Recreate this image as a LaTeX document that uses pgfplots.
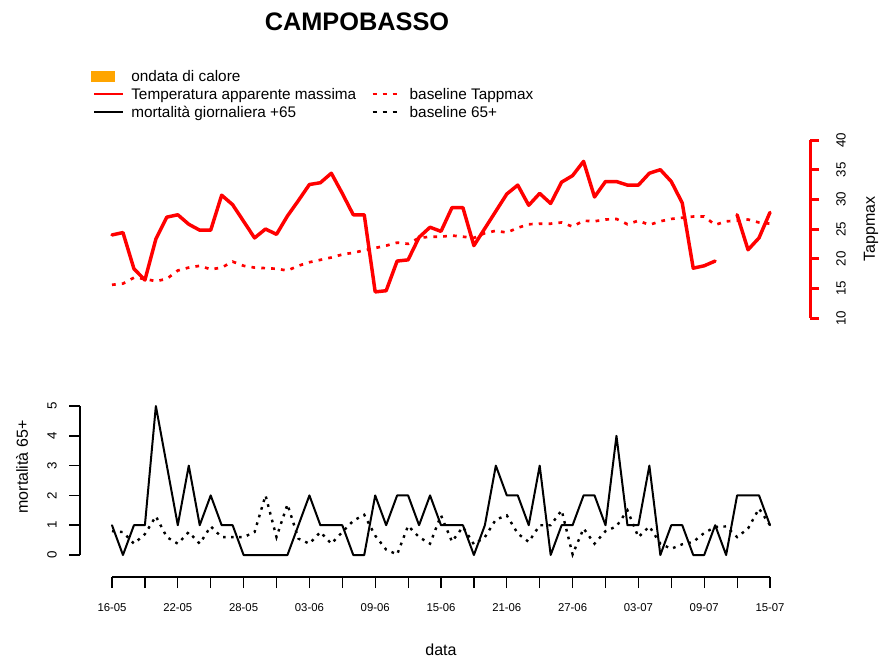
\documentclass[border=0pt]{standalone}
\usepackage{pgfplots}
\usepackage{pgfplotstable}
\pgfplotsset{compat=1.18}
\usepackage{fontspec}
\setmainfont{Liberation Sans}
\definecolor{rorange}{HTML}{FFA500}

\pgfplotstableread{
d t b m k
0 24.0 15.6 1 0.80
1 24.4 15.8 0 0.77
2 18.3 16.8 1 0.38
3 16.4 16.6 1 0.70
4 23.3 16.2 5 1.30
5 27.0 16.6 3 0.60
6 27.4 18.0 1 0.38
7 25.8 18.5 3 0.77
8 24.8 18.8 1 0.38
9 24.8 18.2 2 0.96
10 30.7 18.5 1 0.60
11 29.1 19.5 1 0.60
12 26.3 18.8 0 0.60
13 23.5 18.5 0 0.77
14 25.0 18.4 0 2.00
15 24.1 18.3 0 0.60
16 27.2 18.0 0 1.70
17 29.8 18.8 1 0.55
18 32.5 19.4 2 0.38
19 32.8 19.8 1 0.77
20 34.4 20.2 1 0.38
21 31.0 20.7 1 0.77
22 27.4 21.0 0 1.15
23 27.4 21.4 0 1.35
24 14.4 21.8 2 0.65
25 14.6 22.2 1 0.18
26 19.6 22.7 2 0.02
27 19.8 22.5 2 0.98
28 23.6 23.5 1 0.60
29 25.3 23.7 2 0.38
30 24.6 23.7 1 1.33
31 28.6 23.9 1 0.45
32 28.6 23.7 1 0.94
33 22.2 23.5 0 0.36
34 25.1 24.3 1 0.60
35 28.0 24.7 3 1.19
36 30.9 24.4 2 1.33
37 32.4 25.2 2 0.72
38 29.0 25.8 1 0.44
39 31.0 25.9 3 1.00
40 29.3 25.9 0 1.00
41 32.9 26.1 1 1.50
42 34.0 25.4 1 0.02
43 36.4 26.4 2 0.89
44 30.4 26.3 2 0.38
45 33.0 26.6 1 0.80
46 33.0 26.7 4 0.96
47 32.4 25.8 1 1.50
48 32.4 26.4 1 0.60
49 34.4 25.7 3 0.96
50 35.0 26.3 0 0.38
51 33.0 26.7 1 0.21
52 29.4 26.9 1 0.36
53 18.4 27.1 0 0.44
54 18.8 27.1 0 0.74
55 19.6 25.7 1 0.94
56 nan 26.3 0 0.96
57 27.4 26.4 2 0.60
58 21.5 26.6 2 0.89
59 23.5 26.1 2 1.56
60 27.8 25.9 1 1.00
}\datatable

\begin{document}
\begin{tikzpicture}
\useasboundingbox (0,0) rectangle (663.75pt,-493.5pt);
\node[font=\bfseries\fontsize{19}{22}\selectfont] at (267.75pt,-16.5pt) {CAMPOBASSO};

% ---------- top panel: temperature ----------
\begin{axis}[
  at={(84pt,-238.5pt)}, anchor=south west,
  width=523.5pt, height=133.5pt, scale only axis,
  xmin=0, xmax=63.65, ymin=10, ymax=40,
  axis x line=none, axis y line=right,
  y axis line style={red, line width=2.25pt, -},
  ytick={10,15,...,40},
  tick align=outside,
  major tick length=6.75pt,
  major tick style={red, line width=2.25pt},
  /pgf/number format/assume math mode=true,
  yticklabel style={xshift=16.5pt, rotate=90, anchor=center, font=\fontsize{10}{12}\selectfont, text=black},
  every axis y label/.style={at={(axis description cs:1.0874,0.5)}, rotate=90, anchor=center, font=\fontsize{12}{14}\selectfont},
  ylabel={Tappmax},
  clip=false,
  unbounded coords=jump,
  legend columns=2, legend cell align=left,
  legend style={at={(axis description cs:-0.0305,1.397)}, anchor=north west,
    draw=none, fill=none, inner sep=0pt, outer sep=0pt,
    font=\fontsize{11.5}{13}\selectfont, row sep=0pt, column sep=5.25pt,
    /tikz/column 2/.style={column sep=11.25pt},
    nodes={inner sep=0pt, text height=9pt, text depth=4.4pt}},
]
\addlegendimage{legend image code/.code={\fill[rorange] (-2.5pt,-2.6pt) rectangle (15pt,5.6pt);}}
\addlegendentry{ondata di calore}
\addlegendimage{empty legend}
\addlegendentry{}
\addlegendimage{legend image code/.code={\draw[red, line width=1.5pt] (0pt,1.5pt) -- (21.75pt,1.5pt);}}
\addlegendentry{Temperatura apparente massima}
\addlegendimage{legend image code/.code={\draw[red, line width=1.8pt, dash pattern=on 3.5pt off 4pt] (0pt,1.5pt) -- (21.75pt,1.5pt);}}
\addlegendentry{baseline Tappmax}
\addlegendimage{legend image code/.code={\draw[black, line width=1.5pt] (0pt,1.5pt) -- (21.75pt,1.5pt);}}
\addlegendentry{mortalità giornaliera +65}
\addlegendimage{legend image code/.code={\draw[black, line width=1.8pt, dash pattern=on 3.5pt off 4pt] (0pt,1.5pt) -- (21.75pt,1.5pt);}}
\addlegendentry{baseline 65+}

\addplot[red, line width=2pt, dash pattern=on 2.8pt off 4.6pt, forget plot] table[x=d, y=b] {\datatable};
\addplot[red, line width=2.6pt, line join=round, line cap=round, forget plot] table[x=d, y=t] {\datatable};
\end{axis}

% ---------- bottom panel: mortality ----------
\begin{axis}[
  at={(60pt,-416.25pt)}, anchor=south west,
  width=517.5pt, height=111.75pt, scale only axis,
  xmin=-2.918, xmax=60, ymin=0, ymax=5,
  axis x line=none, axis y line=left,
  y axis line style={black, line width=1.2pt, -},
  ytick={0,...,5},
  tick align=outside, major tick length=8pt,
  major tick style={black, line width=1.2pt},
  /pgf/number format/assume math mode=true,
  yticklabel style={xshift=-13pt, rotate=90, anchor=center, font=\fontsize{10}{12}\selectfont},
  every axis y label/.style={at={(axis description cs:-0.0841,0.5906)}, rotate=90, anchor=center, font=\fontsize{12}{14}\selectfont},
  ylabel={mortalità 65+},
  clip=false,
]
\addplot[black, line width=1.8pt, dash pattern=on 2pt off 4pt] table[x=d, y=k] {\datatable};
\addplot[black, line width=1.5pt, line join=round, line cap=round] table[x=d, y=m] {\datatable};
\end{axis}

% ---------- date axis ----------
\begin{axis}[
  at={(84pt,-432.75pt)}, anchor=south west,
  width=493.5pt, height=7.5pt, scale only axis,
  xmin=0, xmax=60, ymin=0, ymax=1,
  axis y line=none, axis x line=bottom,
  x axis line style={black, line width=0.9pt, -},
  xtick={0,3,...,60},
  xticklabels={16-05,{},22-05,{},28-05,{},03-06,{},09-06,{},15-06,{},21-06,{},27-06,{},03-07,{},09-07,{},15-07},
  tick align=outside, major tick length=8.25pt,
  major tick style={black, line width=0.9pt},
  xticklabel style={anchor=center, yshift=-15pt, font=\fontsize{8.5}{10}\selectfont},
  every axis x label/.style={at={(axis description cs:0.5,-7.3)}, anchor=center, font=\fontsize{12}{14}\selectfont},
  xlabel={data},
]
\end{axis}
\end{tikzpicture}
\end{document}
